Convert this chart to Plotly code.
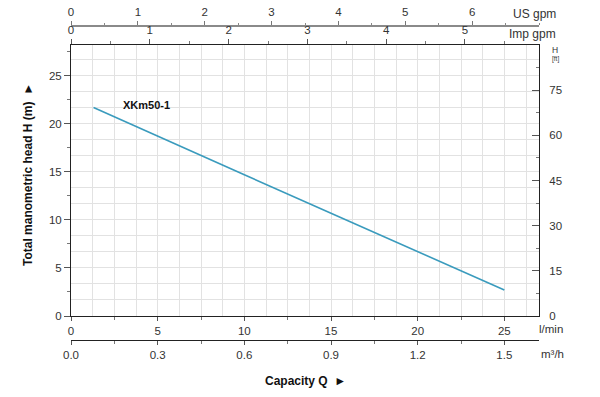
import plotly.graph_objects as go

# ---- data ----
flow_lmin = [1.3, 5, 10, 15, 20, 25]
head_m = [21.7, 18.7, 14.7, 10.7, 6.7, 2.7]
curve_name = "XKm50-1"

lmin_ticks = [0, 5, 10, 15, 20, 25]
m_ticks = [0, 5, 10, 15, 20, 25]
ft_ticks = [0, 15, 30, 45, 60, 75]
imp_ticks = [0, 1, 2, 3, 4, 5]
us_ticks = [0, 1, 2, 3, 4, 5, 6]
m3h_ticks = [0.0, 0.3, 0.6, 0.9, 1.2, 1.5]

# ---- layout geometry ----
W, H = 600, 397
ML, MR, MT, MB = 71, 61, 10, 52
paper_h = H - MT - MB
def fy(py):  # pixel y -> paper fraction
    return (H - MB - py) / paper_h
pw = W - ML - MR
def fx(px):
    return (px - ML) / pw

X_MAX = 27.0
Y_MAX = 28.2
FT_MAX = 90.0
IMP_MAX = X_MAX / 4.54609
US_MAX = 7.0
M3H_MAX = X_MAX / (1000 / 60)

FONT = "Liberation Sans, Arial, sans-serif"
TXT = "#333333"
GRID = "#e2e2e2"
tf = dict(family=FONT, size=11.5, color=TXT)

fig = go.Figure()
fig.add_trace(go.Scatter(x=flow_lmin, y=head_m, mode="lines",
                         line=dict(color="#3a9bbd", width=1.6),
                         showlegend=False, hoverinfo="skip"))
# helper (empty) traces to register the extra axes
for xa, ya in [("x2", "y"), ("x3", "y"), ("x4", "y"), ("x", "y2"), ("x5", "y3")]:
    fig.add_trace(go.Scatter(x=[], y=[], xaxis=xa, yaxis=ya, showlegend=False,
                             hoverinfo="skip"))

ydom = [fy(316), fy(45)]

fig.update_layout(
    width=W, height=H,
    margin=dict(l=ML, r=MR, t=MT, b=MB, autoexpand=False),
    paper_bgcolor="white", plot_bgcolor="white",
    font=dict(family=FONT, color=TXT),
    # l/min (bottom frame)
    xaxis=dict(domain=[0, 1], range=[0, X_MAX], tickvals=lmin_ticks,
               showgrid=False, zeroline=False, showline=True, linecolor="#222",
               linewidth=1, ticks="outside", ticklen=4, tickcolor="#555",
               minor=dict(dtick=2.5, tick0=0, ticks="outside", ticklen=3,
                          tickcolor="#777", showgrid=False),
               tickfont=tf, anchor="y", automargin=False),
    # Imp gpm (top frame)
    xaxis2=dict(overlaying="x", side="top", anchor="y", range=[0, IMP_MAX],
                tickvals=imp_ticks, showgrid=False, zeroline=False,
                showline=True, linecolor="#222", linewidth=1,
                ticks="outside", ticklen=5, tickcolor="#555",
                minor=dict(dtick=0.5, tick0=0, ticks="outside", ticklen=3,
                           tickcolor="#777", showgrid=False),
                tickfont=tf, automargin=False),
    # US gpm (free, above)
    xaxis3=dict(overlaying="x", side="top", anchor="free", position=fy(26),
                range=[0, US_MAX], tickvals=us_ticks, showgrid=False,
                zeroline=False, showline=True, linecolor="#8a8a8a",
                linewidth=2, ticks="outside", ticklen=4, tickcolor="#777",
                minor=dict(dtick=0.5, tick0=0, ticks="outside", ticklen=2,
                           tickcolor="#888", showgrid=False),
                tickfont=tf, automargin=False),
    # m3/h (free, below)
    xaxis4=dict(overlaying="x", side="bottom", anchor="free", position=fy(340),
                range=[0, M3H_MAX], tickvals=m3h_ticks, tickformat=".1f",
                showgrid=False, zeroline=False, showline=True,
                linecolor="#222", linewidth=1, ticks="outside", ticklen=4,
                tickcolor="#555",
                minor=dict(dtick=0.15, tick0=0, ticks="outside", ticklen=3,
                           tickcolor="#777", showgrid=False),
                tickfont=tf, automargin=False),
    # grid-only x axis
    xaxis5=dict(overlaying="x", range=[0, X_MAX], dtick=1.25, tick0=0,
                showgrid=True, gridcolor=GRID, gridwidth=1, zeroline=False,
                showticklabels=False, ticks="", showline=False, anchor="y",
                automargin=False),
    # head m (left)
    yaxis=dict(domain=ydom, range=[0, Y_MAX], tickvals=m_ticks,
               showgrid=False, zeroline=False, showline=True, linecolor="#222",
               linewidth=1, ticks="outside", ticklen=6, tickcolor="#555",
               minor=dict(dtick=2.5, tick0=0, ticks="outside", ticklen=3,
                          tickcolor="#777", showgrid=False),
               tickfont=tf, anchor="x", automargin=False),
    # head ft (right)
    yaxis2=dict(overlaying="y", side="right", anchor="x", range=[0, FT_MAX],
                tickvals=ft_ticks, showgrid=False, zeroline=False,
                showline=True, linecolor="#222", linewidth=1,
                ticks="inside", ticklen=7, tickcolor="#555",
                ticklabelstandoff=7,
                minor=dict(dtick=7.5, tick0=0, ticks="inside", ticklen=3,
                           tickcolor="#777", showgrid=False),
                tickfont=tf, automargin=False),
    # grid-only y axis
    yaxis3=dict(overlaying="y", range=[0, Y_MAX], dtick=5 / 3, tick0=0,
                showgrid=True, gridcolor=GRID, gridwidth=1, zeroline=False,
                showticklabels=False, ticks="", showline=False, anchor="x",
                automargin=False),
)

ann = []
def txt(text, px, py, size=11.5, bold=False, xanchor="center", angle=0, color=TXT):
    ann.append(dict(text=f"<b>{text}</b>" if bold else text,
                    x=fx(px), y=fy(py), xref="paper", yref="paper",
                    xanchor=xanchor, yanchor="middle", showarrow=False,
                    textangle=angle, font=dict(family=FONT, size=size, color=color)))

txt("US gpm", 534, 14, size=12)
txt("Imp gpm", 532, 34, size=12)
txt("H", 555, 50, size=8.5)
txt("[ft]", 555, 59, size=6.5)
txt("l/min", 551, 329, size=11.5)
txt("m³/h", 552, 354, size=11.5)
txt("Capacity Q  ►", 305, 381, size=12, bold=True, color="#111")
txt("Total manometric head H (m)  ►", 28, 175, size=12, bold=True, angle=-90, color="#111")

ann.append(dict(text=f"<b>{curve_name}</b>", x=2.9, y=22.0, xref="x", yref="y",
                xanchor="left", yanchor="middle", showarrow=False,
                font=dict(family=FONT, size=11, color="#111")))
fig.update_layout(annotations=ann)

fig.write_html("out.html", config={"displayModeBar": False},
               post_script="document.body.style.margin='0px';")
